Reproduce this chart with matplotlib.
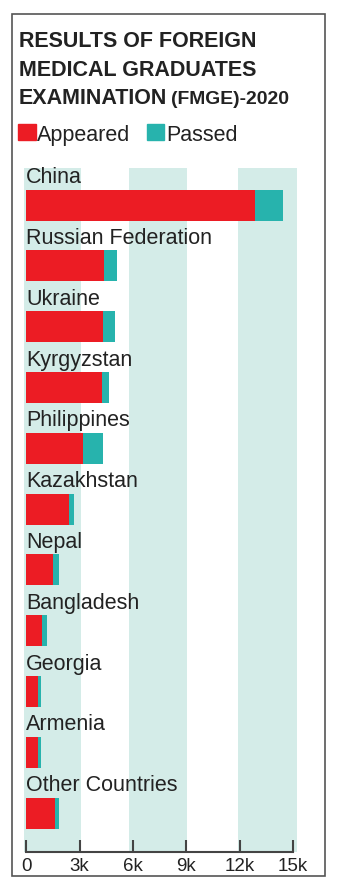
import matplotlib.pyplot as plt
from matplotlib.patches import Rectangle
from matplotlib import font_manager

# =========================
# DATA (thousands)
# =========================

countries = ["China", "Russian Federation", "Ukraine", "Kyrgyzstan",
             "Philippines", "Kazakhstan", "Nepal", "Bangladesh",
             "Georgia", "Armenia", "Other Countries"]

appeared = [12850, 4380, 4290, 4230, 3200, 2400, 1520, 900, 680, 680, 1610]
passed = [1600, 700, 690, 420, 1120, 280, 320, 280, 130, 150, 240]

tick_vals = [0, 3000, 6000, 9000, 12000, 15000]
tick_labels = ["0", "3k", "6k", "9k", "12k", "15k"]

RED = "#ec1c24"
TEAL = "#27b3ad"
BAND = "#d4ece8"
TEXT = "#222222"

names = {f.name for f in font_manager.fontManager.ttflist}
BODY = "Liberation Sans" if "Liberation Sans" in names else "DejaVu Sans"
TITLE = "Liberation Sans Narrow" if "Liberation Sans Narrow" in names else BODY

W, H = 346, 888
fig = plt.figure(figsize=(W / 100, H / 100), dpi=100)


def fx(px):
    return px / W


def fy(py):
    return 1 - py / H


# border box
fig.patches.append(Rectangle((fx(12), fy(876)), fx(325) - fx(12), fy(14) - fy(876),
                             transform=fig.transFigure, fill=False,
                             edgecolor="#555555", linewidth=1.2))

# =========================
# TITLE + LEGEND
# =========================

tsize = 18.5 if TITLE != BODY else 15.5
fig.text(fx(19), fy(47), "RESULTS OF FOREIGN", fontsize=tsize, fontweight="bold",
         family=TITLE, color=TEXT, va="baseline")
fig.text(fx(19), fy(76), "MEDICAL GRADUATES", fontsize=tsize, fontweight="bold",
         family=TITLE, color=TEXT, va="baseline")
fig.text(fx(19), fy(104), "EXAMINATION", fontsize=tsize, fontweight="bold",
         family=TITLE, color=TEXT, va="baseline")
fig.text(fx(171), fy(104), "(FMGE)-2020", fontsize=tsize * 0.9, fontweight="bold",
         family=TITLE, color=TEXT, va="baseline")

fig.patches.append(Rectangle((fx(18), fy(140)), fx(36) - fx(18), fy(124) - fy(140),
                             transform=fig.transFigure, color=RED))
fig.text(fx(37), fy(141), "Appeared", fontsize=15.5, family=BODY, color=TEXT, va="baseline")
fig.patches.append(Rectangle((fx(147), fy(140)), fx(164) - fx(147), fy(124) - fy(140),
                             transform=fig.transFigure, color=TEAL))
fig.text(fx(166), fy(141), "Passed", fontsize=15.5, family=BODY, color=TEXT, va="baseline")

# =========================
# BARS
# =========================

ax = fig.add_axes([fx(26.3), fy(852), fx(293) - fx(26.3), fy(168) - fy(852)])

for lo, hi in [(-150, 3100), (5800, 9050), (11900, 15200)]:
    ax.axvspan(lo, hi, color=BAND, zorder=0, lw=0, clip_on=False)

ypos = list(range(len(countries)))
ax.barh(ypos, appeared, height=0.51, color=RED, zorder=2, lw=0)
ax.barh(ypos, passed, left=appeared, height=0.51, color=TEAL, zorder=2, lw=0)

for y, name in zip(ypos, countries):
    ax.text(0, y - 0.36, name, fontsize=15.5, family=BODY, color=TEXT,
            va="baseline", ha="left", zorder=3)

ax.set_xlim(0, 15000)
ax.set_ylim(10.64, -0.61)

ax.set_facecolor("none")
for side in ["top", "right", "left"]:
    ax.spines[side].set_visible(False)
ax.spines["bottom"].set_color("#444444")
ax.spines["bottom"].set_linewidth(1.5)

ax.set_yticks([])
ax.set_xticks(tick_vals)
ax.set_xticklabels(tick_labels, fontsize=13.5, family=BODY, color=TEXT)
ax.tick_params(axis="x", direction="in", length=8.5, width=1.5, color="#444444", pad=4)

fig.savefig("out.png", dpi=100)
